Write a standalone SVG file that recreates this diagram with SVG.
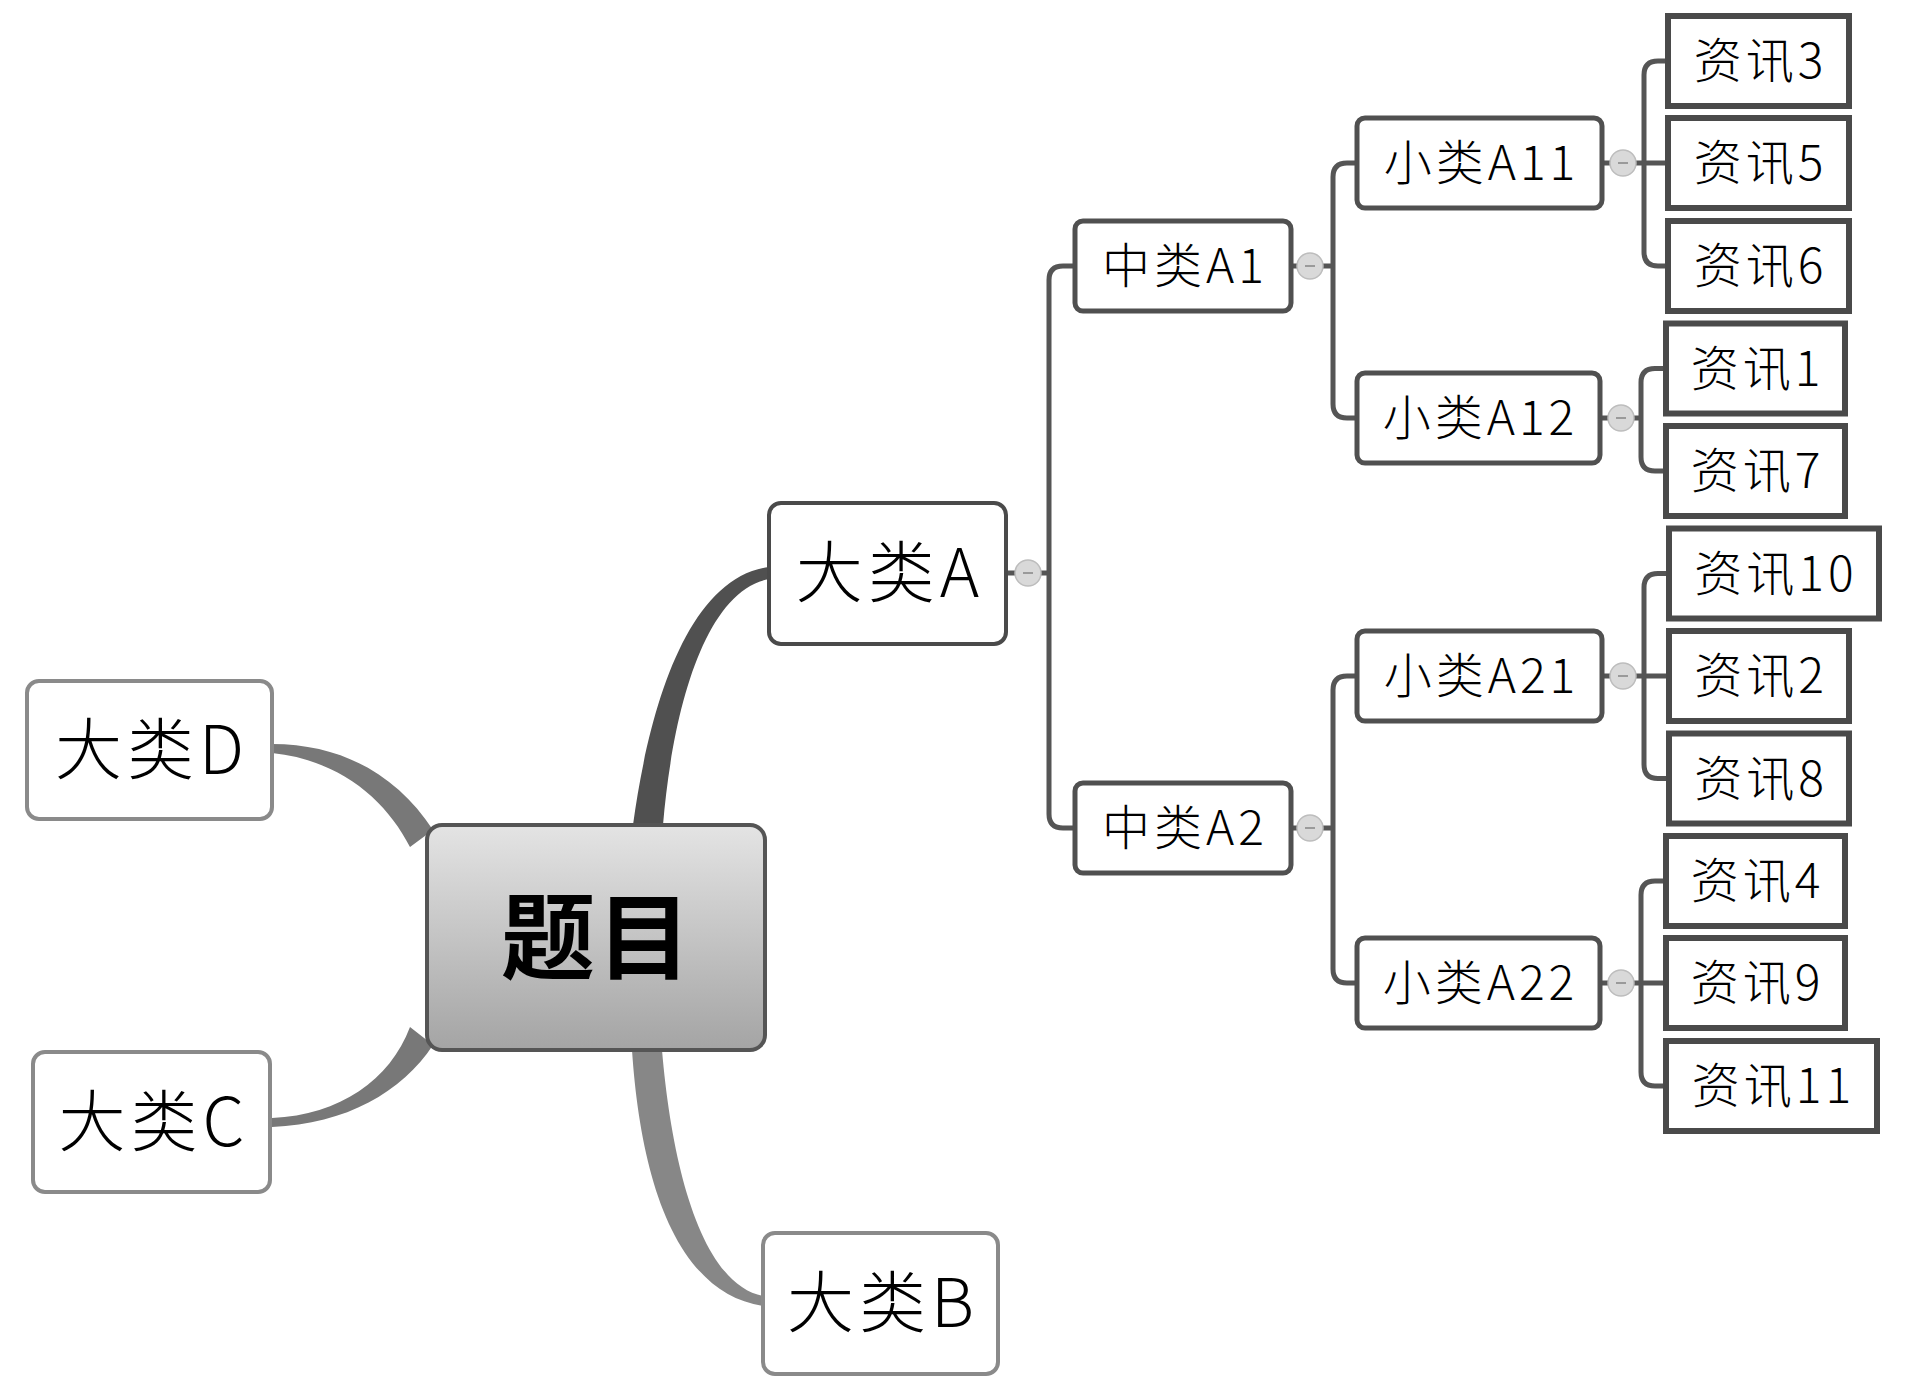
<svg xmlns="http://www.w3.org/2000/svg" width="1924" height="1397" viewBox="0 0 1924 1397">
<defs>
<linearGradient id="gCenter" x1="0" y1="0" x2="0" y2="1">
<stop offset="0" stop-color="#e4e4e4"/>
<stop offset="1" stop-color="#a4a4a4"/>
</linearGradient>
</defs>
<style>
text{font-family:"Noto Sans CJK SC","Noto Sans",sans-serif;fill:#000;text-anchor:middle;font-weight:300}
.t-big{font-size:67px;letter-spacing:5px}
.t-mid{font-size:48px;letter-spacing:4px}
.t-root{font-size:94px;font-weight:700;letter-spacing:2px}
.root{fill:url(#gCenter);stroke:#555;stroke-width:4}
.mainA{fill:#fff;stroke:#4a4a4a;stroke-width:4}
.main{fill:#fff;stroke:#8a8a8a;stroke-width:4}
.sub{fill:#fff;stroke:#505050;stroke-width:5}
.leaf{fill:#fff;stroke:#4a4a4a;stroke-width:6}
.branch{fill:none;stroke:#555;stroke-width:5;stroke-linecap:butt}
.fold{fill:#d9d9d9;stroke:#bdbdbd;stroke-width:1.5}
.minus{stroke:#9a9a9a;stroke-width:2}
</style>
<rect width="1924" height="1397" fill="#fff"/>

<g id="connectors">
<path d="M633 825 C648 715 685 578 769 567 L769 579 C702 592 672 718 663 825 Z" fill="#505050"/>
<path d="M632 1050 C640 1170 672 1292 763 1306 L763 1296 C702 1284 672 1168 662 1050 Z" fill="#878787"/>
<path d="M272 744 C342 744 397 775 433 830 L410 847 C386 800 340 760 272 753 Z" fill="#787878"/>
<path d="M272 1118 C340 1115 390 1080 410 1027 L433 1045 C402 1092 346 1124 272 1127 Z" fill="#787878"/>
<path class="branch" d="M1006 573 H1049 M1075 266 H1063 Q1049 266 1049 280 V814 Q1049 828 1063 828 H1075"/>
<path class="branch" d="M1291 266 H1333 M1357 163 H1347 Q1333 163 1333 177 V404 Q1333 418 1347 418 H1357"/>
<path class="branch" d="M1291 828 H1333 M1357 676 H1347 Q1333 676 1333 690 V969 Q1333 983 1347 983 H1357"/>
<path class="branch" d="M1602 163 H1668 M1668 61 H1658 Q1644 61 1644 75 V252 Q1644 266 1658 266 H1668"/>
<path class="branch" d="M1600 418 H1641 M1666 368.5 H1655 Q1641 368.5 1641 382.5 V457 Q1641 471 1655 471 H1666"/>
<path class="branch" d="M1602 676 H1669 M1669 573.5 H1658 Q1644 573.5 1644 587.5 V764.5 Q1644 778.5 1658 778.5 H1669"/>
<path class="branch" d="M1600 983 H1666 M1666 881 H1655 Q1641 881 1641 895 V1072 Q1641 1086 1655 1086 H1666"/>
<g id="folds">
<circle class="fold" cx="1028" cy="573" r="13"/><line class="minus" x1="1023" y1="573" x2="1033" y2="573"/>
<circle class="fold" cx="1310" cy="266" r="13"/><line class="minus" x1="1305" y1="266" x2="1315" y2="266"/>
<circle class="fold" cx="1310" cy="828" r="13"/><line class="minus" x1="1305" y1="828" x2="1315" y2="828"/>
<circle class="fold" cx="1623" cy="163" r="13"/><line class="minus" x1="1618" y1="163" x2="1628" y2="163"/>
<circle class="fold" cx="1621" cy="418" r="13"/><line class="minus" x1="1616" y1="418" x2="1626" y2="418"/>
<circle class="fold" cx="1623" cy="676" r="13"/><line class="minus" x1="1618" y1="676" x2="1628" y2="676"/>
<circle class="fold" cx="1621" cy="983" r="13"/><line class="minus" x1="1616" y1="983" x2="1626" y2="983"/>
</g>
</g>

<g id="root"><rect class="root" x="427" y="825" width="338" height="225" rx="15"/><text class="t-root" x="597" y="972">题目</text></g>

<g id="bigA"><rect class="mainA" x="769" y="503" width="237" height="141" rx="12"/><text class="t-big" x="890" y="597">大类A</text></g>
<g id="bigB"><rect class="main" x="763" y="1233" width="235" height="141" rx="12"/><text class="t-big" x="883" y="1327">大类B</text></g>
<g id="bigC"><rect class="main" x="33" y="1052" width="237" height="140" rx="12"/><text class="t-big" x="154" y="1146">大类C</text></g>
<g id="bigD"><rect class="main" x="27" y="681" width="245" height="138" rx="12"/><text class="t-big" x="152" y="774">大类D</text></g>

<g id="midA1"><rect class="sub" x="1075" y="221" width="216" height="90" rx="8"/><text class="t-mid" x="1185" y="283">中类A1</text></g>
<g id="midA2"><rect class="sub" x="1075" y="783" width="216" height="90" rx="8"/><text class="t-mid" x="1185" y="845">中类A2</text></g>

<g id="smallA11"><rect class="sub" x="1357" y="118" width="245" height="90" rx="8"/><text class="t-mid" x="1481.5" y="180">小类A11</text></g>
<g id="smallA12"><rect class="sub" x="1357" y="373" width="243" height="90" rx="8"/><text class="t-mid" x="1480.5" y="435">小类A12</text></g>
<g id="smallA21"><rect class="sub" x="1357" y="631" width="245" height="90" rx="8"/><text class="t-mid" x="1481.5" y="693">小类A21</text></g>
<g id="smallA22"><rect class="sub" x="1357" y="938" width="243" height="90" rx="8"/><text class="t-mid" x="1480.5" y="1000">小类A22</text></g>

<g id="info3"><rect class="leaf" x="1668" y="16" width="181" height="90"/><text class="t-mid" x="1760.5" y="78">资讯3</text></g>
<g id="info5"><rect class="leaf" x="1668" y="118" width="181" height="90"/><text class="t-mid" x="1760.5" y="180">资讯5</text></g>
<g id="info6"><rect class="leaf" x="1668" y="221" width="181" height="90"/><text class="t-mid" x="1760.5" y="283">资讯6</text></g>
<g id="info1"><rect class="leaf" x="1666" y="323.5" width="179" height="90"/><text class="t-mid" x="1757.5" y="385.5">资讯1</text></g>
<g id="info7"><rect class="leaf" x="1666" y="426" width="179" height="90"/><text class="t-mid" x="1757.5" y="488">资讯7</text></g>
<g id="info10"><rect class="leaf" x="1669" y="528.5" width="210" height="90"/><text class="t-mid" x="1776" y="590.5">资讯10</text></g>
<g id="info2"><rect class="leaf" x="1669" y="631" width="180" height="90"/><text class="t-mid" x="1761" y="693">资讯2</text></g>
<g id="info8"><rect class="leaf" x="1669" y="733.5" width="180" height="90"/><text class="t-mid" x="1761" y="795.5">资讯8</text></g>
<g id="info4"><rect class="leaf" x="1666" y="836" width="179" height="90"/><text class="t-mid" x="1757.5" y="898">资讯4</text></g>
<g id="info9"><rect class="leaf" x="1666" y="938" width="179" height="90"/><text class="t-mid" x="1757.5" y="1000">资讯9</text></g>
<g id="info11"><rect class="leaf" x="1666" y="1041" width="211" height="90"/><text class="t-mid" x="1773.5" y="1103">资讯11</text></g>
</svg>
